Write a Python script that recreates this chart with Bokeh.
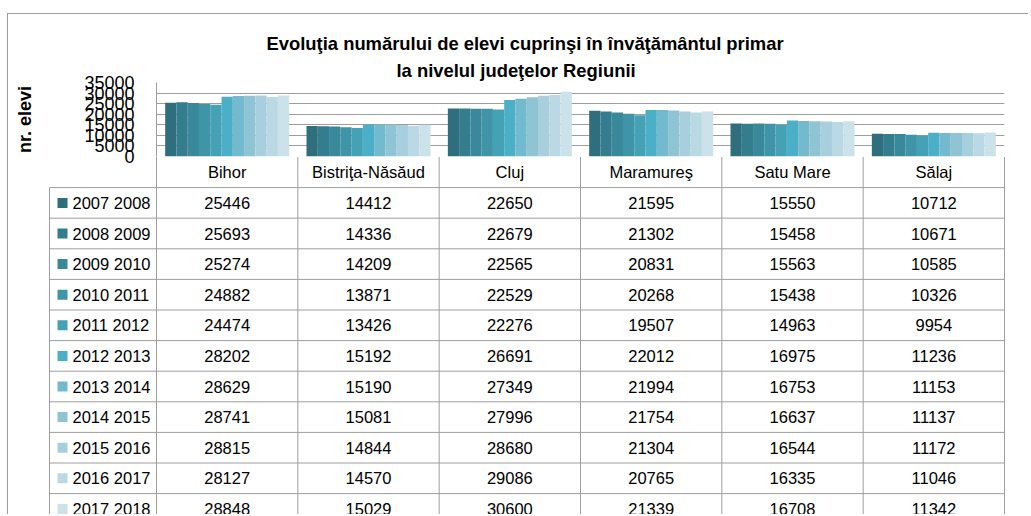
from bokeh.plotting import figure
from bokeh.models import FactorRange, Range1d, FixedTicker, Title, ColumnDataSource
from bokeh.layouts import column
from bokeh.embed import file_html
from bokeh.resources import INLINE
from bokeh.core.properties import value

# ---------------- data ----------------
title_line1 = "Evoluţia numărului de elevi cuprinşi în învăţământul primar"
title_line2 = "la nivelul judeţelor Regiunii"
y_label = "nr. elevi"

counties = ["Bihor", "Bistriţa-Năsăud", "Cluj", "Maramureş", "Satu Mare", "Sălaj"]
seasons = ["2007 2008", "2008 2009", "2009 2010", "2010 2011", "2011 2012",
           "2012 2013", "2013 2014", "2014 2015", "2015 2016", "2016 2017", "2017 2018"]

bihor     = [25446, 25693, 25274, 24882, 24474, 28202, 28629, 28741, 28815, 28127, 28848]
bistrita  = [14412, 14336, 14209, 13871, 13426, 15192, 15190, 15081, 14844, 14570, 15029]
cluj      = [22650, 22679, 22565, 22529, 22276, 26691, 27349, 27996, 28680, 29086, 30600]
maramures = [21595, 21302, 20831, 20268, 19507, 22012, 21994, 21754, 21304, 20765, 21339]
satu_mare = [15550, 15458, 15563, 15438, 14963, 16975, 16753, 16637, 16544, 16335, 16708]
salaj     = [10712, 10671, 10585, 10326, 9954, 11236, 11153, 11137, 11172, 11046, 11342]
series_by_county = [bihor, bistrita, cluj, maramures, satu_mare, salaj]

y_ticks = [0, 5000, 10000, 15000, 20000, 25000, 30000, 35000]

# ---------------- style ----------------
colors = ["#2E6E7D", "#347D8E", "#3A899B", "#3F94A7", "#45A1B5", "#4CAFC8",
          "#74BACF", "#8FC4D5", "#A7CFDD", "#BAD9E4", "#CCE2EA"]
FONT = "Liberation Sans"
GRID = "#9E9E9E"

# layout (page pixels; page has no body margin)
W, HB = 1020, 358
PX0, PY0 = 8, 14
PLOT_L, PLOT_R, PLOT_T, PLOT_B = 156, 1004, 82, 156
OVERLAP = 10          # chart canvas reaches under the table so the "0" tick label shows
HA = PLOT_B - PY0 + OVERLAP
TABLE_L = 49
ROW_H = 30.6

# ---------------- chart ----------------
factors = [(c, s) for c in counties for s in seasons]
tops = [v for vals in series_by_county for v in vals]
fills = [colors[i] for _ in counties for i in range(len(seasons))]

pa = figure(width=W, height=HA,
            x_range=FactorRange(*factors, group_padding=1.54, range_padding=0.77,
                                range_padding_units="absolute"),
            y_range=Range1d(0, 35000),
            x_axis_location=None, title_location=None,
            output_backend="svg", toolbar_location=None,
            min_border_left=PLOT_L - PX0, min_border_right=PX0 + W - PLOT_R,
            min_border_top=PLOT_T - PY0, min_border_bottom=OVERLAP)
pa.frame_align = False
pa.outline_line_color = None
pa.background_fill_color = "white"
pa.border_fill_color = "white"
pa.xgrid.visible = False
pa.ygrid.grid_line_color = GRID
pa.ygrid.ticker = FixedTicker(ticks=y_ticks)

src = ColumnDataSource(dict(x=factors, top=tops, color=fills))
pa.vbar(x="x", top="top", width=1.0, fill_color="color", line_color=None, source=src)

ya = pa.yaxis[0]
ya.ticker = FixedTicker(ticks=y_ticks)
ya.major_label_text_font = FONT
ya.major_label_text_font_size = "18px"
ya.major_label_text_color = "#000000"
ya.major_tick_line_color = None
ya.minor_tick_line_color = None
ya.major_tick_in = 0
ya.major_tick_out = 0
ya.axis_line_color = GRID
ya.major_label_standoff = 22
ya.axis_label = y_label
ya.axis_label_text_font = FONT
ya.axis_label_text_font_size = "18px"
ya.axis_label_text_font_style = "bold"
ya.axis_label_text_color = "#000000"
ya.axis_label_standoff = 46

t2 = Title(text=title_line2, align="left", offset=396 - PLOT_L, standoff=3,
           text_font=FONT, text_font_size="18.4px", text_font_style="bold",
           text_color="#000000")
pa.add_layout(t2, "above")
t1 = Title(text=title_line1, align="left", offset=266 - PLOT_L, standoff=6,
           text_font=FONT, text_font_size="18.4px", text_font_style="bold",
           text_color="#000000")
pa.add_layout(t1, "above")

# ---------------- data table ----------------
CW = (PLOT_R - PLOT_L) / len(counties)
BL, BR = 47, 1006
LC = (TABLE_L - PLOT_L) / CW
n_rows = len(seasons)
n_cols = len(counties)

pb = figure(width=W, height=HB,
            x_range=Range1d((BL - PLOT_L) / CW, (BR - PLOT_L) / CW),
            y_range=Range1d(start=(HB - 0.5) / ROW_H, end=-0.5 / ROW_H),
            x_axis_location=None, y_axis_location=None, title_location=None,
            output_backend="svg", toolbar_location=None,
            min_border_left=BL - PX0, min_border_right=PX0 + W - BR,
            min_border_top=0, min_border_bottom=0,
            margin=(-OVERLAP, 0, 0, 0))
pb.frame_align = False
pb.outline_line_color = None
pb.background_fill_color = None
pb.border_fill_color = None
pb.xgrid.visible = False
pb.ygrid.visible = False

hy = list(range(1, n_rows + 2))
pb.segment(x0=[LC] * len(hy), y0=hy, x1=[n_cols] * len(hy), y1=hy,
           line_color=GRID, line_width=1)
vx = [LC] + list(range(n_cols + 1))
vy0 = [1] + [0] * (n_cols + 1)
pb.segment(x0=vx, y0=vy0, x1=vx, y1=[n_rows + 1] * len(vx),
           line_color=GRID, line_width=1)

# header (categories)
pb.text(x=[i + 0.5 for i in range(n_cols)], y=[0.5] * n_cols, text=counties,
        text_align="center", text_baseline="middle",
        text_font=value(FONT), text_font_size="16.5px", text_color="#000000")

# values
tx, ty, tt = [], [], []
for ci, vals in enumerate(series_by_county):
    for si, v in enumerate(vals):
        tx.append(ci + 0.5)
        ty.append(si + 1.5)
        tt.append(str(v))
pb.text(x=tx, y=ty, text=tt, text_align="center", text_baseline="middle",
        text_font=value(FONT), text_font_size="16.5px", text_color="#000000")

# legend keys + labels
KEY_X = (62 - PLOT_L) / CW
LAB_X = (72 - PLOT_L) / CW
rows_y = [si + 1.5 for si in range(n_rows)]
pb.scatter(x=[KEY_X] * n_rows, y=rows_y, marker="square", size=10,
           fill_color=colors, line_color=None)
pb.text(x=[LAB_X] * n_rows, y=rows_y, text=seasons, text_align="left",
        text_baseline="middle", text_font=value(FONT), text_font_size="16.5px",
        text_color="#000000")

layout = column(pa, pb, margin=(13, 0, 0, 7),
                styles={"border-top": "1px solid " + GRID, "border-left": "1px solid " + GRID})

open("out.html", "w").write(file_html(layout, INLINE))
